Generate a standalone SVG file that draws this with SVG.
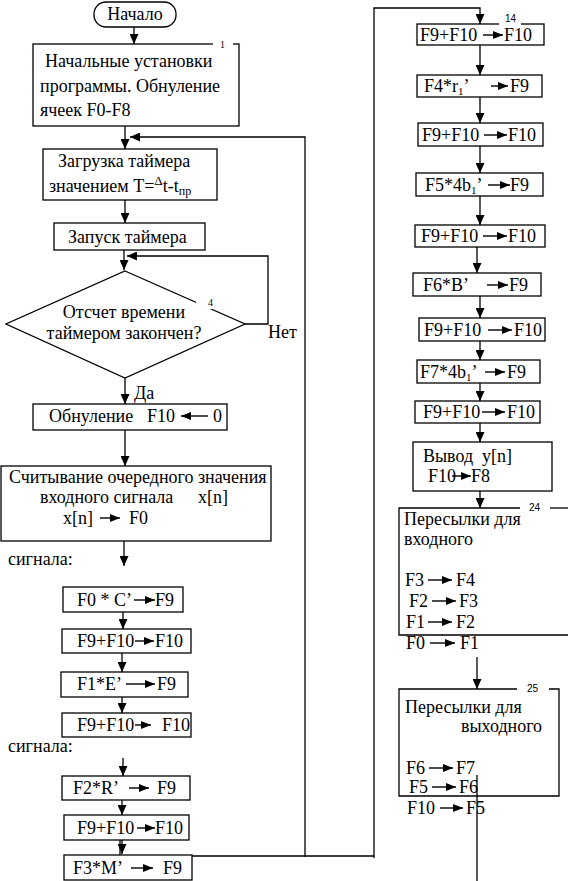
<svg xmlns="http://www.w3.org/2000/svg" width="568" height="881" viewBox="0 0 568 881">
<style>
.b{fill:#fff;stroke:#000;stroke-width:1.3}
.l{fill:none;stroke:#000;stroke-width:1.3}
.c{fill:none;stroke:#000;stroke-width:1.3;marker-end:url(#ah)}
.ta{fill:none;stroke:#000;stroke-width:1.4;marker-end:url(#tm)}
.n{font-family:"Liberation Sans","DejaVu Sans",sans-serif;font-size:10px}
.ns{font-size:10px}
</style>
<defs>
<marker id="ah" markerUnits="userSpaceOnUse" markerWidth="10" markerHeight="9" refX="10" refY="4.5" orient="auto"><path d="M0,0 L10,4.5 L0,9 z" fill="#000"/></marker>
<marker id="tm" markerUnits="userSpaceOnUse" markerWidth="10" markerHeight="8" refX="10" refY="4" orient="auto"><path d="M0,0 L10,4 L0,8 z" fill="#000"/></marker>
</defs>
<rect width="568" height="881" fill="#fff"/>
<g font-family="'Liberation Serif', 'DejaVu Serif', serif" font-size="18" fill="#000">

<g id="connectors">
<line class="c" x1="134" y1="27" x2="134" y2="44"/>
<line class="c" x1="125" y1="126" x2="125" y2="149"/>
<polyline class="c" points="305,857 305,137 130,137"/>
<line class="c" x1="125" y1="200" x2="125" y2="223"/>
<line class="c" x1="124" y1="250" x2="124" y2="270"/>
<polyline class="c" points="245,324 268,324 268,256 127,256"/>
<line class="c" x1="125" y1="378" x2="125" y2="404"/>
<line class="c" x1="125" y1="430" x2="125" y2="466"/>
<line class="c" x1="124" y1="541" x2="124" y2="566"/>
<line class="c" x1="123" y1="612" x2="123" y2="629"/>
<line class="c" x1="122" y1="653" x2="122" y2="672"/>
<line class="c" x1="122" y1="697" x2="122" y2="713"/>
<line class="c" x1="123" y1="758" x2="123" y2="776"/>
<line class="c" x1="122" y1="800" x2="122" y2="815"/>
<line class="c" x1="122" y1="840" x2="122" y2="854"/>
<polyline class="l" points="120,836 120,856 374,856"/>
<polyline class="c" points="374,858 374,8 480,8 480,24"/>
<line class="c" x1="480" y1="45" x2="480" y2="75"/>
<line class="c" x1="480" y1="97" x2="480" y2="123"/>
<line class="c" x1="480" y1="146" x2="480" y2="173"/>
<line class="c" x1="480" y1="196" x2="480" y2="225"/>
<line class="c" x1="477" y1="247" x2="477" y2="273"/>
<line class="c" x1="480" y1="296" x2="480" y2="318"/>
<line class="c" x1="480" y1="341" x2="480" y2="360"/>
<line class="c" x1="480" y1="383" x2="480" y2="401"/>
<line class="c" x1="480" y1="423" x2="480" y2="442"/>
<line class="c" x1="480" y1="491" x2="480" y2="508"/>
<line class="c" x1="477" y1="657" x2="477" y2="689"/>
<line class="l" x1="477" y1="775" x2="477" y2="881"/>
</g>

<g id="start">
<rect class="b" x="94" y="2" width="82" height="25" rx="12"/>
<text x="135" y="20" text-anchor="middle">Начало</text>
</g>

<g id="n1">
<rect class="b" x="33" y="44" width="206" height="82"/>
<rect x="213" y="40" width="20" height="8" fill="#fff"/>
<text class="ns" x="220" y="48">1</text>
<text x="45" y="67">Начальные установки</text>
<text x="40" y="92">программы. Обнуление</text>
<text x="40" y="116">ячеек F0-F8</text>
</g>

<g id="n2">
<rect class="b" x="43" y="149" width="174" height="51"/>
<text x="58" y="167">Загрузка таймера</text>
<text x="49" y="192">значением T=<tspan font-size="13" dy="-7">Δ</tspan><tspan dy="7">t-t</tspan><tspan font-size="12" dy="3">пр</tspan></text>
</g>

<g id="n3">
<rect class="b" x="54" y="223" width="151" height="27"/>
<text x="68" y="243">Запуск таймера</text>
</g>

<g id="n4">
<polygon class="b" points="125,271 245,324 125,378 6,324"/>
<rect x="196" y="295" width="26" height="14" fill="#fff"/>
<text class="ns" x="208" y="306">4</text>
<text x="124" y="318" text-anchor="middle">Отсчет времени</text>
<text x="124" y="339" text-anchor="middle">таймером закончен?</text>
<text x="268" y="338">Нет</text>
<text x="134" y="399">Да</text>
</g>

<g id="n5">
<rect class="b" x="33" y="404" width="194" height="26"/>
<text x="49" y="422">Обнуление</text>
<text x="147" y="422">F10</text>
<line class="ta" x1="208" y1="416" x2="181" y2="416"/>
<text x="213" y="422">0</text>
</g>

<g id="n6">
<rect class="b" x="1" y="466" width="270" height="75"/>
<text x="9" y="483">Считывание очередного значения</text>
<text x="40" y="503">входного сигнала</text>
<text x="198" y="503">x[n]</text>
<text x="63" y="524">x[n]</text>
<line class="ta" x1="100" y1="518" x2="120" y2="518"/>
<text x="129" y="524">F0</text>
<text x="8" y="565">сигнала:</text>
</g>

<g id="n7">
<rect class="b" x="63" y="587" width="120" height="25"/>
<text x="77" y="606">F0 * C’</text>
<line class="ta" x1="134" y1="600" x2="155" y2="600"/>
<text x="155" y="606">F9</text>
</g>

<g id="n8">
<rect class="b" x="62" y="629" width="129" height="24"/>
<text x="77" y="647">F9+F10</text>
<line class="ta" x1="135" y1="641" x2="154" y2="641"/>
<text x="155" y="647">F10</text>
</g>

<g id="n9">
<rect class="b" x="61" y="672" width="127" height="25"/>
<text x="77" y="690">F1*E’</text>
<line class="ta" x1="126" y1="684" x2="155" y2="684"/>
<text x="157" y="690">F9</text>
</g>

<g id="n10">
<rect class="b" x="62" y="713" width="129" height="24"/>
<text x="77" y="731">F9+F10</text>
<line class="ta" x1="135" y1="725" x2="151" y2="725"/>
<text x="162" y="731">F10</text>
<text x="8" y="752">сигнала:</text>
</g>

<g id="n11">
<rect class="b" x="62" y="776" width="128" height="24"/>
<text x="73" y="794">F2*R’</text>
<line class="ta" x1="129" y1="788" x2="149" y2="788"/>
<text x="157" y="794">F9</text>
</g>

<g id="n12">
<rect class="b" x="64" y="815" width="125" height="25"/>
<text x="77" y="834">F9+F10</text>
<line class="ta" x1="137" y1="828" x2="155" y2="828"/>
<text x="155" y="834">F10</text>
</g>

<g id="n13">
<rect class="b" x="64" y="855" width="128" height="25"/>
<text x="73" y="874">F3*M’</text>
<line class="ta" x1="131" y1="868" x2="153" y2="868"/>
<text x="163" y="874">F9</text>
</g>

<g id="n14">
<rect class="b" x="417" y="24" width="127" height="21"/>
<rect x="499" y="12" width="22" height="14" fill="#fff"/>
<text class="n" x="505" y="22">14</text>
<text x="420" y="41">F9+F10</text>
<line class="ta" x1="483" y1="35" x2="503" y2="35"/>
<text x="504" y="41">F10</text>
</g>

<g id="n15">
<rect class="b" x="417" y="75" width="125" height="22"/>
<text x="424" y="92">F4*r<tspan font-size="11" dy="3">1</tspan><tspan dy="-3">’</tspan></text>
<line class="ta" x1="491" y1="86" x2="508" y2="86"/>
<text x="510" y="92">F9</text>
</g>

<g id="n16">
<rect class="b" x="418" y="123" width="125" height="23"/>
<text x="422" y="141">F9+F10</text>
<line class="ta" x1="484" y1="135" x2="507" y2="135"/>
<text x="508" y="141">F10</text>
</g>

<g id="n17">
<rect class="b" x="416" y="173" width="127" height="23"/>
<text x="425" y="191">F5*4b<tspan font-size="11" dy="3">1</tspan><tspan dy="-3">’</tspan></text>
<line class="ta" x1="488" y1="185" x2="510" y2="185"/>
<text x="510" y="191">F9</text>
</g>

<g id="n18">
<rect class="b" x="415" y="225" width="130" height="22"/>
<text x="421" y="242">F9+F10</text>
<line class="ta" x1="483" y1="236" x2="507" y2="236"/>
<text x="508" y="242">F10</text>
</g>

<g id="n19">
<rect class="b" x="413" y="273" width="128" height="23"/>
<text x="423" y="291">F6*B’</text>
<line class="ta" x1="487" y1="285" x2="508" y2="285"/>
<text x="509" y="291">F9</text>
</g>

<g id="n20">
<rect class="b" x="419" y="318" width="126" height="23"/>
<text x="424" y="336">F9+F10</text>
<line class="ta" x1="488" y1="330" x2="512" y2="330"/>
<text x="514" y="336">F10</text>
</g>

<g id="n21">
<rect class="b" x="417" y="360" width="123" height="23"/>
<text x="420" y="378">F7*4b<tspan font-size="11" dy="3">1</tspan><tspan dy="-3">’</tspan></text>
<line class="ta" x1="485" y1="372" x2="505" y2="372"/>
<text x="507" y="378">F9</text>
</g>

<g id="n22">
<rect class="b" x="415" y="401" width="125" height="22"/>
<text x="423" y="418">F9+F10</text>
<line class="ta" x1="482" y1="412" x2="505" y2="412"/>
<text x="507" y="418">F10</text>
</g>

<g id="n23">
<rect class="b" x="413" y="442" width="139" height="49"/>
<text x="423" y="462">Вывод</text>
<text x="482" y="462">y[n]</text>
<text x="428" y="482">F10</text>
<line class="ta" x1="452" y1="476" x2="471" y2="476"/>
<text x="471" y="482">F8</text>
</g>

<g id="n24">
<polyline class="l" points="520,508 399,508 399,635 568,635"/>
<line class="l" x1="550" y1="508" x2="568" y2="508"/>
<text class="n" x="529" y="511">24</text>
<text x="404" y="525">Пересылки для</text>
<text x="404" y="545">входного</text>
<text x="405" y="586">F3</text>
<line class="ta" x1="428" y1="580" x2="452" y2="580"/>
<text x="456" y="586">F4</text>
<text x="409" y="607">F2</text>
<line class="ta" x1="432" y1="601" x2="456" y2="601"/>
<text x="459" y="607">F3</text>
<text x="406" y="628">F1</text>
<line class="ta" x1="428" y1="622" x2="452" y2="622"/>
<text x="456" y="628">F2</text>
<text x="406" y="649">F0</text>
<line class="ta" x1="430" y1="643" x2="455" y2="643"/>
<text x="460" y="649">F1</text>
</g>

<g id="n25">
<polyline class="l" points="517,689 399,689 399,796 559,796 559,689 549,689"/>
<text class="n" x="527" y="692">25</text>
<text x="405" y="713">Пересылки для</text>
<text x="461" y="732">выходного</text>
<text x="406" y="774">F6</text>
<line class="ta" x1="429" y1="768" x2="453" y2="768"/>
<text x="456" y="774">F7</text>
<text x="409" y="793">F5</text>
<line class="ta" x1="432" y1="787" x2="456" y2="787"/>
<text x="459" y="793">F6</text>
<text x="407" y="814">F10</text>
<line class="ta" x1="440" y1="808" x2="463" y2="808"/>
<text x="466" y="814">F5</text>
</g>
</g>
</svg>
